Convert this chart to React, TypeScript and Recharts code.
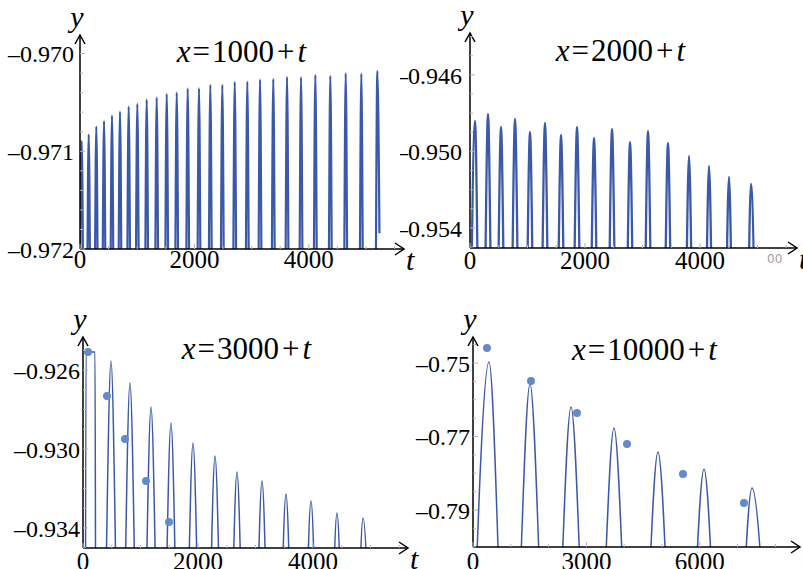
import { ComposedChart, Line, Scatter, XAxis, YAxis } from "recharts";

type Pt = { t: number; y: number };

const FONT = '"Liberation Serif", "Times New Roman", serif';
const BLUE = "#3c58aa";
const DOT = "#638bc8";

// x = 1000 + t : narrow spikes, peaks
const p1Peaks: Pt[] = [
  { t: 30, y: -0.970895 }, { t: 152, y: -0.970827 }, { t: 285, y: -0.970745 },
  { t: 420, y: -0.970691 }, { t: 559, y: -0.970633 }, { t: 699, y: -0.970592 },
  { t: 851, y: -0.970541 }, { t: 1002, y: -0.970513 }, { t: 1166, y: -0.970469 },
  { t: 1341, y: -0.970449 }, { t: 1516, y: -0.970411 }, { t: 1691, y: -0.970398 },
  { t: 1883, y: -0.970357 }, { t: 2080, y: -0.970354 }, { t: 2278, y: -0.97032 },
  { t: 2488, y: -0.97032 }, { t: 2705, y: -0.970289 }, { t: 2925, y: -0.970286 },
  { t: 3147, y: -0.970265 }, { t: 3379, y: -0.970258 }, { t: 3619, y: -0.970238 },
  { t: 3864, y: -0.970242 }, { t: 4114, y: -0.970217 }, { t: 4376, y: -0.970228 },
  { t: 4645, y: -0.970201 }, { t: 4918, y: -0.970204 }, { t: 5198, y: -0.970177 },
];
const p1End: Pt = { t: 5235, y: -0.97184 };

// x = 2000 + t
const p2Peaks: Pt[] = [
  { t: 87, y: -0.948405 }, { t: 313, y: -0.948039 }, { t: 539, y: -0.948719 },
  { t: 783, y: -0.948301 }, { t: 1043, y: -0.94898 }, { t: 1304, y: -0.94851 },
  { t: 1583, y: -0.949137 }, { t: 1861, y: -0.948719 }, { t: 2157, y: -0.949294 },
  { t: 2470, y: -0.948824 }, { t: 2783, y: -0.949503 }, { t: 3096, y: -0.948928 },
  { t: 3443, y: -0.949556 }, { t: 3809, y: -0.950235 }, { t: 4157, y: -0.950758 },
  { t: 4504, y: -0.951333 }, { t: 4887, y: -0.951699 },
];

// x = 3000 + t
const p3Plateau = { from: 52, to: 209, y: -0.925089 };
const p3Peaks: Pt[] = [
  { t: 487, y: -0.925544 }, { t: 817, y: -0.926658 }, { t: 1183, y: -0.927873 },
  { t: 1530, y: -0.928684 }, { t: 1913, y: -0.929696 }, { t: 2296, y: -0.930354 },
  { t: 2678, y: -0.931165 }, { t: 3113, y: -0.93162 }, { t: 3530, y: -0.932278 },
  { t: 3965, y: -0.932633 }, { t: 4417, y: -0.933241 }, { t: 4870, y: -0.933494 },
];
const p3Dots: Pt[] = [
  { t: 87, y: -0.925089 }, { t: 417, y: -0.927316 }, { t: 730, y: -0.929494 },
  { t: 1096, y: -0.93162 }, { t: 1496, y: -0.933696 },
];

// x = 10000 + t
const p4Peaks: Pt[] = [
  { t: 423, y: -0.74973 }, { t: 1508, y: -0.75571 }, { t: 2593, y: -0.76197 },
  { t: 3730, y: -0.76769 }, { t: 4894, y: -0.77422 }, { t: 6111, y: -0.77884 },
  { t: 7381, y: -0.78401 },
];
const p4Dots: Pt[] = [
  { t: 370, y: -0.74592 }, { t: 1534, y: -0.7549 }, { t: 2751, y: -0.76361 },
  { t: 4074, y: -0.77204 }, { t: 5556, y: -0.7802 }, { t: 7169, y: -0.7881 },
];

const p1XMajor = [0, 2000, 4000];
const p1YMajor = [-0.972, -0.971, -0.97];
const p2YMajor = [-0.954, -0.95, -0.946];
const p3YMajor = [-0.934, -0.93, -0.926];
const p4XMajor = [0, 3000, 6000];
const p4YMajor = [-0.79, -0.77, -0.75];

function steps(from: number, to: number, step: number, dec: number) {
  const out: number[] = [];
  const n = Math.round((to - from) / step);
  for (let i = 0; i <= n; i++) out.push(Number((from + i * step).toFixed(dec)));
  return out;
}

// each arch: a foot below the visible range, the peak, another foot
function arches(peaks: Pt[], hw: number, low: number, end?: Pt): Pt[] {
  const out: Pt[] = [];
  peaks.forEach((p, i) => {
    out.push({ t: p.t - hw, y: low }, p);
    if (i === peaks.length - 1 && end) out.push(end);
    else out.push({ t: p.t + hw, y: low });
  });
  return out;
}

const p1Line = arches(p1Peaks, 45, -0.9735, p1End);
const p2Line = arches(p2Peaks, 82, -0.9616);
const p3Line = [
  { t: 40, y: -0.9445 },
  { t: p3Plateau.from, y: p3Plateau.y },
  { t: p3Plateau.to, y: p3Plateau.y },
  { t: 225, y: -0.9445 },
  ...arches(p3Peaks, 156, -0.9445),
];
const p4Line = arches(p4Peaks, 476, -0.85);

function isIn(list: number[], v: number) {
  return list.some((m) => Math.abs(m - v) < 1e-9);
}

function YTick(props: any) {
  const { x, y, payload, major, digits, gap } = props;
  const big = isIn(major, payload.value);
  const ax = x + gap;
  return (
    <g>
      <line x1={ax} x2={ax + (big ? 5 : 3)} y1={y} y2={y} stroke="#b4b4b4" strokeWidth={1} />
      {big && (
        <text x={x} y={y} dy="0.36em" textAnchor="end" fontFamily={FONT} fontSize={24} fill="#000">
          {"–" + Math.abs(payload.value).toFixed(digits)}
        </text>
      )}
    </g>
  );
}

function XTick(props: any) {
  const { x, y, payload, major, gap } = props;
  const big = isIn(major, payload.value);
  const ay = y - gap;
  return (
    <g>
      <line x1={x} x2={x} y1={ay} y2={ay - (big ? 5 : 3)} stroke="#b4b4b4" strokeWidth={1} />
      {big && (
        <text x={x} y={y} dy="0.71em" textAnchor="middle" fontFamily={FONT} fontSize={25} fill="#000">
          {payload.value}
        </text>
      )}
    </g>
  );
}

function XArrow(props: any) {
  const { x, y, width } = props.viewBox;
  const tip = x + width;
  return (
    <g>
      <path d={`M${tip - 9},${y - 6} L${tip},${y} L${tip - 9},${y + 6}`} fill="none" stroke="#000" strokeWidth={1.5} />
      <text x={tip + 2} y={y + 21} fontFamily={FONT} fontStyle="italic" fontSize={30} fill="#000">
        t
      </text>
    </g>
  );
}

function YArrow(props: any) {
  const { x, y, width } = props.viewBox;
  const ax = x + width;
  return (
    <g>
      <path d={`M${ax - 5},${y + 9} L${ax},${y} L${ax + 5},${y + 9}`} fill="none" stroke="#000" strokeWidth={1.5} />
      <text x={ax - 3} y={y - 8} textAnchor="middle" fontFamily={FONT} fontStyle="italic" fontSize={30} fill="#000">
        y
      </text>
    </g>
  );
}

type PanelProps = {
  left: number;
  top: number;
  width: number;
  height: number;
  margin: { top: number; right: number; bottom: number; left: number };
  yWidth: number;
  xHeight: number;
  xDomain: [number, number];
  yDomain: [number, number];
  xMajor: number[];
  xTicks: number[];
  yMajor: number[];
  yTicks: number[];
  digits: number;
  yGap: number;
  xGap: number;
  line: Pt[];
  dots?: Pt[];
  stroke: number;
};

function Panel(p: PanelProps) {
  return (
    <div style={{ position: "absolute", left: p.left, top: p.top }}>
      <ComposedChart width={p.width} height={p.height} margin={p.margin}>
        <XAxis
          dataKey="t"
          type="number"
          domain={p.xDomain}
          allowDataOverflow
          ticks={p.xTicks}
          interval={0}
          tickSize={0}
          tickMargin={p.xGap}
          height={p.xHeight}
          axisLine={{ stroke: "#000", strokeWidth: 1.5 }}
          tickLine={false}
          tick={(tp: any) => <XTick {...tp} major={p.xMajor} gap={p.xGap} />}
          label={(lp: any) => <XArrow {...lp} />}
        />
        <YAxis
          type="number"
          domain={p.yDomain}
          allowDataOverflow
          ticks={p.yTicks}
          interval={0}
          tickSize={0}
          tickMargin={p.yGap}
          width={p.yWidth}
          axisLine={{ stroke: "#000", strokeWidth: 1.5 }}
          tickLine={false}
          tick={(tp: any) => <YTick {...tp} major={p.yMajor} digits={p.digits} gap={p.yGap} />}
          label={(lp: any) => <YArrow {...lp} />}
        />
        <Line
          data={p.line}
          dataKey="y"
          type="monotone"
          stroke={BLUE}
          strokeWidth={p.stroke}
          dot={false}
          isAnimationActive={false}
        />
        {p.dots && (
          <Scatter
            data={p.dots}
            dataKey="y"
            fill={DOT}
            isAnimationActive={false}
            shape={(sp: any) => <circle cx={sp.cx} cy={sp.cy} r={4} fill={DOT} />}
          />
        )}
      </ComposedChart>
    </div>
  );
}

function Title({ cx, cy, num }: { cx: number; cy: number; num: string }) {
  return (
    <div
      style={{
        position: "absolute",
        left: cx - 120,
        width: 240,
        top: cy - 16,
        textAlign: "center",
        fontFamily: FONT,
        fontSize: 31,
        lineHeight: "31px",
        whiteSpace: "nowrap",
      }}
    >
      <i>x</i>
      <span style={{ margin: "0 2px" }}>=</span>
      {num}
      <span style={{ margin: "0 3px" }}>+</span>
      <i style={{ marginRight: 3 }}>t</i>
    </div>
  );
}

export default function App() {
  return (
    <div
      style={{
        position: "absolute",
        left: 0,
        top: 0,
        width: 803,
        height: 569,
        background: "#fff",
        overflow: "hidden",
      }}
    >
      <Panel
        left={0}
        top={0}
        width={430}
        height={285}
        margin={{ top: 35, right: 26, bottom: 6, left: 0 }}
        yWidth={80}
        xHeight={30}
        xDomain={[0, 5664]}
        yDomain={[-0.972, -0.96981]}
        xMajor={p1XMajor}
        xTicks={steps(0, 5500, 500, 0)}
        yMajor={p1YMajor}
        yTicks={steps(-0.972, -0.97, 0.0002, 4)}
        digits={3}
        yGap={6}
        xGap={1}
        line={p1Line}
        stroke={2.2}
      />
      <Panel
        left={400}
        top={0}
        width={403}
        height={285}
        margin={{ top: 33, right: 6, bottom: 7, left: 0 }}
        yWidth={70}
        xHeight={30}
        xDomain={[0, 5687]}
        yDomain={[-0.95505, -0.94381]}
        xMajor={p1XMajor}
        xTicks={steps(0, 5500, 500, 0)}
        yMajor={p2YMajor}
        yTicks={steps(-0.955, -0.944, 0.001, 3)}
        digits={3}
        yGap={8}
        xGap={3}
        line={p2Line}
        stroke={2.3}
      />
      <Panel
        left={0}
        top={290}
        width={430}
        height={279}
        margin={{ top: 47, right: 22, bottom: 1, left: 0 }}
        yWidth={83}
        xHeight={20}
        xDomain={[0, 5652]}
        yDomain={[-0.935013, -0.924329]}
        xMajor={p1XMajor}
        xTicks={steps(0, 5500, 500, 0)}
        yMajor={p3YMajor}
        yTicks={steps(-0.935, -0.925, 0.001, 3)}
        digits={3}
        yGap={3}
        xGap={4}
        line={p3Line}
        dots={p3Dots}
        stroke={1.5}
      />
      <Panel
        left={400}
        top={290}
        width={403}
        height={279}
        margin={{ top: 47, right: 3, bottom: 2, left: 0 }}
        yWidth={73}
        xHeight={20}
        xDomain={[0, 8651]}
        yDomain={[-0.80007, -0.742925]}
        xMajor={p4XMajor}
        xTicks={steps(0, 8000, 1000, 0)}
        yMajor={p4YMajor}
        yTicks={steps(-0.8, -0.745, 0.005, 3)}
        digits={2}
        yGap={3}
        xGap={5}
        line={p4Line}
        dots={p4Dots}
        stroke={1.5}
      />
      <Title cx={243} cy={52} num="1000" />
      <Title cx={622} cy={51} num="2000" />
      <Title cx={248} cy={349} num="3000" />
      <Title cx={646} cy={350} num="10000" />
      <span
        style={{
          position: "absolute",
          left: 767,
          top: 252,
          fontFamily: '"DejaVu Sans", sans-serif',
          fontSize: 12,
          color: "#a0a0a0",
        }}
      >
        00
      </span>
    </div>
  );
}
